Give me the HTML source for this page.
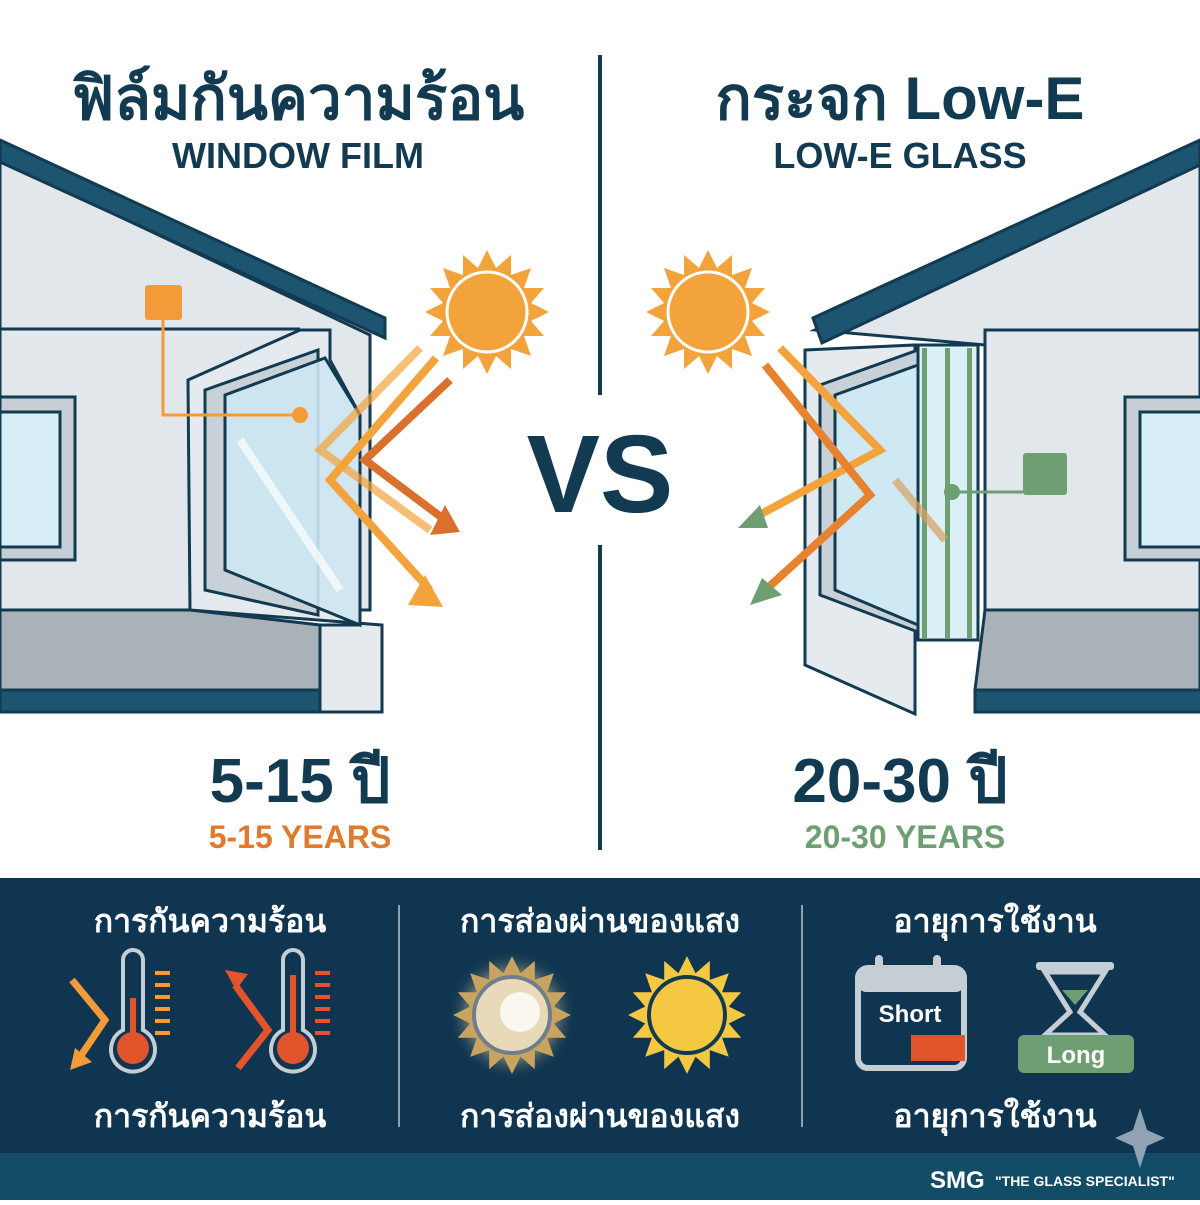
<!DOCTYPE html>
<html><head><meta charset="utf-8"><style>
body{margin:0;width:1200px;height:1200px;overflow:hidden;background:#fff;font-family:"Liberation Sans","DejaVu Sans",sans-serif}
svg text{font-family:"Liberation Sans","DejaVu Sans",sans-serif;font-weight:bold}
</style></head><body>
<svg width="1200" height="1200" viewBox="0 0 1200 1200" xmlns="http://www.w3.org/2000/svg">
<defs>
<g id="sunray">
<polygon points="0,-62 9,-44 24,-57 24,-37 44,-44 37,-24 57,-24 44,-9 62,0 44,9 57,24 37,24 44,44 24,37 24,57 9,44 0,62 -9,44 -24,57 -24,37 -44,44 -37,24 -57,24 -44,9 -62,0 -44,-9 -57,-24 -37,-24 -44,-44 -24,-37 -24,-57 -9,-44"/>
</g>
<radialGradient id="glow"><stop offset="0" stop-color="#fff"/><stop offset="0.5" stop-color="#d9c8a0"/><stop offset="1" stop-color="#0f3550" stop-opacity="0"/></radialGradient>
</defs>
<text x="298" y="119" font-size="60" text-anchor="middle" fill="#123a50">ฟิล์มกันความร้อน</text>
<text x="298" y="168" font-size="36" text-anchor="middle" fill="#123a50" font-weight="normal">WINDOW FILM</text>
<text x="900" y="119" font-size="60" text-anchor="middle" fill="#123a50">กระจก Low-E</text>
<text x="900" y="168" font-size="36" text-anchor="middle" fill="#123a50" font-weight="normal">LOW-E GLASS</text>
<line x1="600" y1="55" x2="600" y2="395" stroke="#123a50" stroke-width="4"/>
<line x1="600" y1="545" x2="600" y2="850" stroke="#123a50" stroke-width="4"/>
<text x="600" y="512" font-size="110" text-anchor="middle" fill="#123a50">VS</text>

<polygon points="0,160 370,335 370,610 0,610" fill="#e2e7ec" stroke="#123a50" stroke-width="3"/>
<line x1="0" y1="329" x2="300" y2="329" stroke="#123a50" stroke-width="3"/>
<polygon points="0,610 190,610 320,625 320,690 0,690" fill="#a9b2b9" stroke="#123a50" stroke-width="3"/>
<rect x="0" y="690" width="330" height="22" fill="#1d5570" stroke="#123a50" stroke-width="3"/>
<rect x="0" y="397" width="75" height="163" fill="#c6ced5" stroke="#123a50" stroke-width="3"/>
<rect x="0" y="412" width="60" height="135" fill="#d8eef7" stroke="#123a50" stroke-width="3"/>
<polygon points="188,380 300,330 330,330 330,360 360,415 360,625 320,625 320,712 382,712 382,625 190,610" fill="#e5eaee" stroke="#123a50" stroke-width="3"/>
<polygon points="205,390 318,350 318,615 205,590" fill="#c8d1d8" stroke="#123a50" stroke-width="3"/>
<polygon points="225,395 325,358 360,415 360,625 225,570" fill="#cde7f2" fill-opacity="0.9" stroke="#123a50" stroke-width="3"/>
<line x1="240" y1="440" x2="340" y2="590" stroke="#fff" stroke-width="8" opacity="0.7"/>
<polygon points="0,140 385,318 385,338 0,162" fill="#1d5570" stroke="#123a50" stroke-width="3"/>
<rect x="145" y="285" width="37" height="35" rx="3" fill="#f29b38"/>
<polyline points="163,320 163,415 300,415" fill="none" stroke="#f29b38" stroke-width="3"/>
<circle cx="300" cy="415" r="8" fill="#f29b38"/>
<g transform="translate(487,312)" fill="#f3a33b"><use href="#sunray"/><circle r="40" stroke="#fff" stroke-width="3"/></g>
<g stroke-width="8" fill="none" stroke-linecap="butt">
<polyline points="420,348 320,450 430,530" stroke="#f3a33b" opacity="0.7"/>
<polyline points="436,358 330,480 430,590" stroke="#f3a33b"/>
<polyline points="450,380 365,460 445,520" stroke="#d9702e"/>
</g>
<polygon points="445,505 460,532 430,535" fill="#d9702e"/>
<polygon points="425,575 443,607 408,605" fill="#f3a33b"/>

<polygon points="815,330 1200,150 1200,610 985,610 985,345" fill="#e2e7ec" stroke="#123a50" stroke-width="3"/>
<polygon points="985,330 1200,330 1200,610 985,610" fill="#e2e7ec" stroke="#123a50" stroke-width="3"/>
<polygon points="805,350 915,345 915,714 805,665" fill="#e5eaee" stroke="#123a50" stroke-width="3"/>
<polygon points="820,385 918,350 918,632 820,595" fill="#c8d1d8" stroke="#123a50" stroke-width="3"/>
<polygon points="835,395 918,365 918,625 835,590" fill="#cfe9f4" stroke="#123a50" stroke-width="3"/>
<rect x="918" y="345" width="60" height="295" fill="#dbeff7" stroke="#123a50" stroke-width="3"/>
<rect x="922" y="348" width="5" height="290" fill="#6e9f72"/>
<rect x="945" y="348" width="5" height="290" fill="#6e9f72"/>
<rect x="967" y="348" width="5" height="290" fill="#6e9f72"/>
<polygon points="985,610 1200,610 1200,690 975,690" fill="#a9b2b9" stroke="#123a50" stroke-width="3"/>
<rect x="975" y="690" width="230" height="22" fill="#1d5570" stroke="#123a50" stroke-width="3"/>
<rect x="1125" y="397" width="80" height="163" fill="#c6ced5" stroke="#123a50" stroke-width="3"/>
<rect x="1140" y="412" width="65" height="135" fill="#d8eef7" stroke="#123a50" stroke-width="3"/>
<polygon points="813,318 1200,140 1200,165 822,343" fill="#1d5570" stroke="#123a50" stroke-width="3"/>
<rect x="1023" y="453" width="44" height="42" rx="3" fill="#6e9f72"/>
<polyline points="1023,492 952,492" fill="none" stroke="#6e9f72" stroke-width="3"/>
<circle cx="952" cy="492" r="8" fill="#6e9f72"/>
<g transform="translate(708,312)" fill="#f3a33b"><use href="#sunray"/><circle r="40" stroke="#fff" stroke-width="3"/></g>
<g stroke-width="8" fill="none">
<polyline points="780,348 880,450 750,520" stroke="#f3a33b"/>
<polyline points="765,365 870,495 760,595" stroke="#e7822e"/>
<line x1="895" y1="480" x2="945" y2="540" stroke="#d9a060" opacity="0.7"/>
</g>
<polygon points="738,528 760,505 768,528" fill="#6e9f72"/>
<polygon points="750,605 762,578 782,595" fill="#6e9f72"/>

<text x="300" y="802" font-size="62" text-anchor="middle" fill="#123a50">5-15 ปี</text>
<text x="300" y="848" font-size="32" text-anchor="middle" fill="#e07a2e">5-15 YEARS</text>
<text x="900" y="802" font-size="62" text-anchor="middle" fill="#123a50">20-30 ปี</text>
<text x="905" y="848" font-size="32" text-anchor="middle" fill="#6e9f72">20-30 YEARS</text>

<rect x="0" y="878" width="1200" height="275" fill="#0f3550"/>
<rect x="0" y="1153" width="1200" height="47" fill="#134c66"/>
<line x1="399" y1="905" x2="399" y2="1127" stroke="#8ea3b0" stroke-width="2"/>
<line x1="802" y1="905" x2="802" y2="1127" stroke="#8ea3b0" stroke-width="2"/>
<g fill="#fff" font-size="32" text-anchor="middle">
<text x="210" y="932" font-weight="normal">การกันความร้อน</text>
<text x="210" y="1127" font-weight="normal">การกันความร้อน</text>
<text x="600" y="932" font-weight="normal">การส่องผ่านของแสง</text>
<text x="600" y="1127" font-weight="normal">การส่องผ่านของแสง</text>
<text x="995" y="932" font-weight="normal">อายุการใช้งาน</text>
<text x="995" y="1127" font-weight="normal">อายุการใช้งาน</text>
</g>
<g stroke="#c6ced5" stroke-width="4" fill="none">
<path d="M123,960 a10,10 0 0 1 20,0 v70 a22,22 0 1 1 -20,0 z"/>
<path d="M283,960 a10,10 0 0 1 20,0 v70 a22,22 0 1 1 -20,0 z"/>
</g>
<circle cx="133" cy="1048" r="16" fill="#e2542c"/><rect x="130" y="998" width="6" height="50" fill="#e2542c"/>
<circle cx="293" cy="1048" r="16" fill="#e2542c"/><rect x="290" y="975" width="6" height="70" fill="#e2542c"/>
<g stroke="#f29b38" stroke-width="4"><line x1="155" y1="973" x2="170" y2="973"/><line x1="155" y1="985" x2="170" y2="985"/><line x1="155" y1="997" x2="170" y2="997"/><line x1="155" y1="1009" x2="170" y2="1009"/><line x1="155" y1="1021" x2="170" y2="1021"/><line x1="155" y1="1033" x2="170" y2="1033"/></g>
<g stroke="#e2542c" stroke-width="4"><line x1="315" y1="973" x2="330" y2="973"/><line x1="315" y1="985" x2="330" y2="985"/><line x1="315" y1="997" x2="330" y2="997"/><line x1="315" y1="1009" x2="330" y2="1009"/><line x1="315" y1="1021" x2="330" y2="1021"/><line x1="315" y1="1033" x2="330" y2="1033"/></g>
<polyline points="72,980 105,1020 78,1060" fill="none" stroke="#f29b38" stroke-width="7"/>
<polygon points="70,1070 75,1048 92,1062" fill="#f29b38"/>
<polyline points="238,1068 268,1030 235,985" fill="none" stroke="#e2542c" stroke-width="7"/>
<polygon points="225,970 248,974 236,990" fill="#e2542c"/>
<circle cx="512" cy="1015" r="65" fill="url(#glow)"/>
<g transform="translate(512,1015) scale(0.95)" fill="#c9a461"><use href="#sunray"/></g>
<circle cx="512" cy="1015" r="38" fill="#e8d9b8" stroke="#6d7f8c" stroke-width="4"/>
<circle cx="520" cy="1012" r="20" fill="#fff" opacity="0.8"/>
<g transform="translate(687,1015) scale(0.95)" fill="#f5c842"><use href="#sunray"/></g>
<circle cx="687" cy="1015" r="38" fill="#f5c842" stroke="#123a50" stroke-width="4"/>
<rect x="858" y="968" width="106" height="100" rx="10" fill="#0f3550" stroke="#c6ced5" stroke-width="6"/>
<rect x="858" y="968" width="106" height="24" rx="8" fill="#c6ced5"/>
<rect x="875" y="955" width="8" height="24" rx="4" fill="#c6ced5"/>
<rect x="933" y="955" width="8" height="24" rx="4" fill="#c6ced5"/>
<text x="910" y="1022" font-size="24" text-anchor="middle" fill="#fff">Short</text>
<rect x="911" y="1035" width="54" height="26" fill="#e2542c"/>
<rect x="1036" y="962" width="78" height="8" rx="3" fill="#c6ced5"/>
<path d="M1045,972 L1105,972 L1080,1012 L1105,1035 L1045,1035 L1070,1012 Z" fill="none" stroke="#c6ced5" stroke-width="5"/>
<path d="M1062,990 L1088,990 L1075,1005 Z" fill="#6e9f72"/>
<rect x="1018" y="1035" width="116" height="38" rx="6" fill="#6e9f72"/>
<text x="1076" y="1063" font-size="24" text-anchor="middle" fill="#fff">Long</text>
<polygon points="1140,1108 1147,1130 1165,1138 1147,1146 1140,1168 1133,1146 1115,1138 1133,1130" fill="#8fa3b2"/>
<text x="930" y="1188" font-size="24" fill="#fff">SMG</text>
<text x="995" y="1186" font-size="14" fill="#fff">"THE GLASS SPECIALIST"</text>
</svg>
</body></html>
